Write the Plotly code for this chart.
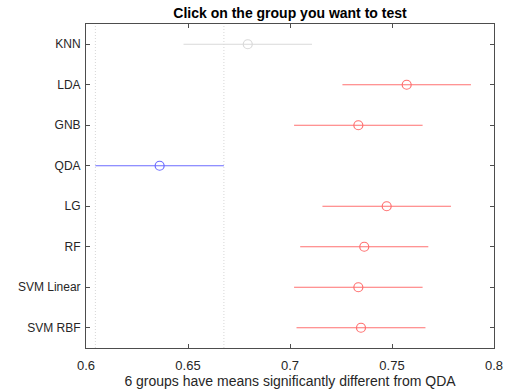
import plotly.graph_objects as go

groups = ["KNN", "LDA", "GNB", "QDA", "LG", "RF", "SVM Linear", "SVM RBF"]
means = [0.6793, 0.7572, 0.7335, 0.6361, 0.7474, 0.7364, 0.7335, 0.7348]
half_width = [0.0315, 0.0315, 0.0315, 0.0315, 0.0315, 0.0314, 0.0315, 0.0316]
status = ["ns", "sig", "sig", "sel", "sig", "sig", "sig", "sig"]
x_ticks = [0.6, 0.65, 0.7, 0.75, 0.8]
selected = "QDA"

colors = {"ns": "#d9d9d9", "sig": "#ff7070", "sel": "#6b6bff"}
font_family = "Liberation Sans, Arial, Helvetica, sans-serif"

fig = go.Figure()
for g, m, h, s in zip(groups, means, half_width, status):
    c = colors[s]
    fig.add_trace(go.Scatter(
        x=[m], y=[g], mode="markers",
        marker=dict(symbol="circle-open", size=9, color=c, line=dict(width=1.2, color=c)),
        error_x=dict(type="data", array=[h], symmetric=True, width=0, thickness=1, color=c),
        showlegend=False, hoverinfo="x+y",
    ))

# dotted reference lines at the selected group's interval bounds
si = groups.index(selected)
for xv in (means[si] - half_width[si], means[si] + half_width[si]):
    fig.add_shape(type="line", xref="x", yref="paper", x0=xv, x1=xv, y0=0, y1=1,
                  line=dict(color="#d6d6d6", width=1, dash="1px,2px"), layer="below")

n_sig = sum(1 for s in status if s == "sig")
fig.update_layout(
    width=505, height=389,
    margin=dict(l=86, r=11, t=24, b=41, autoexpand=False),
    paper_bgcolor="white", plot_bgcolor="white",
    font=dict(family=font_family, size=12, color="#262626"),
    title=dict(text="<b>Click on the group you want to test</b>", x=(86 + 494) / 2 / 505,
               xanchor="center", y=1 - 13 / 389, yanchor="middle",
               font=dict(size=14, color="#000000", family=font_family)),
)
fig.update_xaxes(
    range=[0.6, 0.8], tickvals=x_ticks, ticktext=[f"{v:g}" for v in x_ticks],
    ticks="inside", ticklen=4, tickcolor="#4d4d4d", showgrid=False, zeroline=False,
    showline=True, linecolor="#4d4d4d", linewidth=1, mirror="ticks", automargin=False,
    title=dict(text=f"{n_sig} groups have means significantly different from {selected}",
               standoff=4, font=dict(size=14, color="#262626")),
    tickfont=dict(size=13, color="#262626"), ticklabelstandoff=5,
)
fig.update_yaxes(
    type="category", categoryorder="array", categoryarray=groups,
    range=[len(groups) - 0.5, -0.5], automargin=False,
    ticks="inside", ticklen=4, tickcolor="#4d4d4d", showgrid=False, zeroline=False,
    showline=True, linecolor="#4d4d4d", linewidth=1, mirror="ticks",
    tickfont=dict(size=12, color="#262626"), ticklabelstandoff=2,
)

fig.write_html("out.html")
